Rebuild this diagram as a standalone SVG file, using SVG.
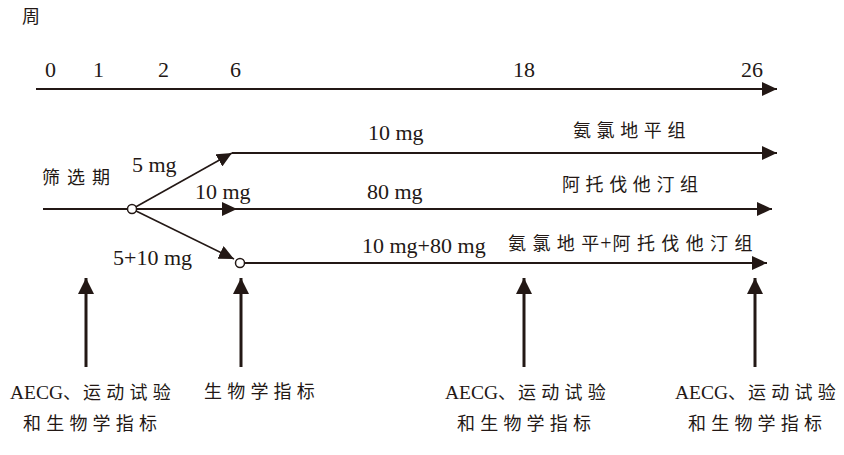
<svg xmlns="http://www.w3.org/2000/svg" width="844" height="455" viewBox="0 0 844 455">
<defs>
<style>
.ln{stroke:#231815;fill:none}
.h{stroke-width:2.2}
.d{stroke-width:1.6}
.v{stroke-width:3}
.t{font-family:"Liberation Serif","Noto Sans CJK SC",serif;fill:#231815}
.lat{font-size:22px}
.cjk{font-size:18px;letter-spacing:5.6px}
.bot{font-size:18px;letter-spacing:5.2px}
.node{fill:#fff;stroke:#231815;stroke-width:1.5}
</style>
<marker id="ah" markerUnits="userSpaceOnUse" markerWidth="15" markerHeight="14" refX="15" refY="7" orient="auto">
<path d="M0,0 L15,7 L0,14 z" fill="#231815"/>
</marker>
<marker id="av" markerUnits="userSpaceOnUse" markerWidth="16" markerHeight="16" refX="16" refY="8" orient="auto">
<path d="M0,0 L16,8 L0,16 z" fill="#231815"/>
</marker>
</defs>
<rect width="844" height="455" fill="#fff"/>

<g id="connectors">
<line class="ln h" x1="36" y1="89" x2="777" y2="89" marker-end="url(#ah)"/>
<line class="ln h" x1="232" y1="153" x2="777" y2="153" marker-end="url(#ah)"/>
<line class="ln h" x1="43" y1="209" x2="237" y2="209" marker-end="url(#ah)"/>
<line class="ln h" x1="236" y1="209" x2="772" y2="209" marker-end="url(#ah)"/>
<line class="ln h" x1="239" y1="263" x2="767" y2="263" marker-end="url(#ah)"/>
<line class="ln d" x1="132" y1="209" x2="232" y2="153" marker-end="url(#ah)"/>
<line class="ln d" x1="132" y1="209" x2="234" y2="259" marker-end="url(#ah)"/>
<line class="ln v" x1="86" y1="367" x2="86" y2="278" marker-end="url(#av)"/>
<line class="ln v" x1="241" y1="367" x2="241" y2="278" marker-end="url(#av)"/>
<line class="ln v" x1="524" y1="367" x2="524" y2="278" marker-end="url(#av)"/>
<line class="ln v" x1="755" y1="367" x2="755" y2="278" marker-end="url(#av)"/>
</g>

<g id="node-split"><circle class="node" cx="132" cy="209" r="4.5"/></g>
<g id="node-combo"><circle class="node" cx="240" cy="263" r="4.5"/></g>

<g id="axis-labels">
<text class="t" x="22" y="23" font-size="18">周</text>
<text class="t lat" x="45" y="77">0</text>
<text class="t lat" x="93" y="77">1</text>
<text class="t lat" x="158" y="77">2</text>
<text class="t lat" x="230" y="77">6</text>
<text class="t lat" x="513" y="77">18</text>
<text class="t lat" x="741" y="77">26</text>
</g>

<g id="group-amlodipine">
<text class="t lat" x="368" y="140">10 mg</text>
<text class="t cjk" x="573" y="137">氨氯地平组</text>
<text class="t lat" x="132" y="172">5 mg</text>
</g>

<g id="screening">
<text class="t cjk" x="42" y="184" style="letter-spacing:7px">筛选期</text>
</g>

<g id="group-atorvastatin">
<text class="t lat" x="195" y="199">10 mg</text>
<text class="t lat" x="367" y="199">80 mg</text>
<text class="t cjk" x="562" y="191">阿托伐他汀组</text>
</g>

<g id="group-combo">
<text class="t lat" x="362" y="253">10 mg+80 mg</text>
<text class="t lat" x="113" y="265">5+10 mg</text>
<text class="t cjk" x="508" y="250" style="letter-spacing:6.4px">氨氯地<tspan style="letter-spacing:1px">平</tspan><tspan font-size="20" style="letter-spacing:1px">+</tspan>阿托伐他汀组</text>
</g>

<g id="measure-0">
<text class="t" x="10" y="399"><tspan font-size="19.5">AECG</tspan><tspan class="bot" style="letter-spacing:2px">、</tspan><tspan class="bot">运动试验</tspan></text>
<text class="t bot" x="23" y="430">和生物学指标</text>
</g>
<g id="measure-6">
<text class="t bot" x="204" y="398">生物学指标</text>
</g>
<g id="measure-18">
<text class="t" x="445" y="399"><tspan font-size="19.5">AECG</tspan><tspan class="bot" style="letter-spacing:2px">、</tspan><tspan class="bot">运动试验</tspan></text>
<text class="t bot" x="457" y="430">和生物学指标</text>
</g>
<g id="measure-26">
<text class="t" x="675" y="399"><tspan font-size="19.5">AECG</tspan><tspan class="bot" style="letter-spacing:2px">、</tspan><tspan class="bot">运动试验</tspan></text>
<text class="t bot" x="688" y="430">和生物学指标</text>
</g>
</svg>
